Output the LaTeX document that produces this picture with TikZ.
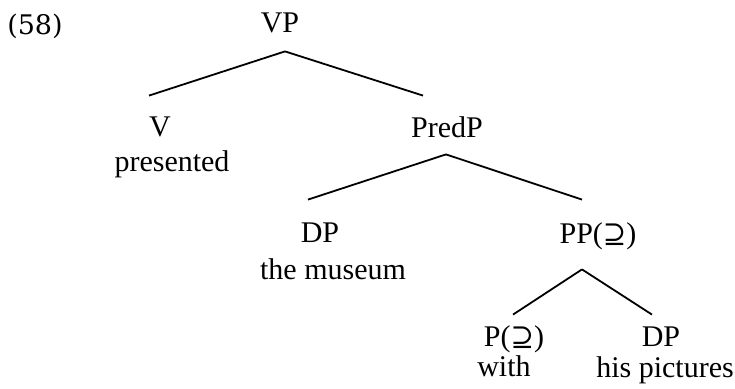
\documentclass[tikz,border=0pt]{standalone}
\usepackage{fontspec}
\newfontfamily\treefont{Liberation Serif}
\newfontfamily\exfont{DejaVu Serif}
\newcommand{\suprel}{{\exfont\fontsize{14}{18}\selectfont ⊇}}
\tikzset{
  cat/.style={font=\treefont\fontsize{15}{18}\selectfont, inner sep=0pt, anchor=base, text height=10pt, text depth=0pt},
  word/.style={font=\treefont\fontsize{15}{18}\selectfont, inner sep=0pt, anchor=base},
  branch/.style={line width=0.9pt}
}

\begin{document}
\begin{tikzpicture}[x=0.5pt,y=-0.5pt]
        \useasboundingbox (0,0) rectangle (735,389) ;
        \node[anchor=base,inner sep=0pt,font=\exfont\fontsize{13.5}{16}\selectfont] (ex) at (35,35) {(58)} ;
        % categories
        \node[cat] (vp) at (280,33) {VP} ;
        \node[cat] (v) at (160,137) {V} ;
        \node[cat] (predp) at (447,138) {PredP} ;
        \node[cat] (dpa) at (320,243) {DP} ;
        \node[cat] (pp) at (598,244) {PP(\suprel)} ;
        \node[cat] (p) at (514,347) {P(\suprel)} ;
        \node[cat] (dpb) at (661,347) {DP} ;
        % words
        \node[word] (presented) at (172,172) {presented} ;
        \node[word] (museum) at (333,280) {the museum} ;
        \node[word] (with) at (504,377) {with} ;
        \node[word] (pictures) at (665,378) {his pictures} ;
        % branches
        \draw[branch] ([shift={(2.5pt,-9pt)}]vp.south) -- ([shift={(-5.5pt,10.5pt)}]v.north) ;
        \draw[branch] ([shift={(2.5pt,-9pt)}]vp.south) -- ([shift={(-12pt,11pt)}]predp.north) ;
        \draw[branch] ([shift={(-0.5pt,-8pt)}]predp.south) -- ([shift={(-6pt,11.5pt)}]dpa.north) ;
        \draw[branch] ([shift={(-0.5pt,-8pt)}]predp.south) -- ([shift={(-8pt,12pt)}]pp.north) ;
        \draw[branch] ([shift={(-8pt,-12.5pt)}]pp.south) -- ([shift={(-0.5pt,6pt)}]p.north) ;
        \draw[branch] ([shift={(-8pt,-12.5pt)}]pp.south) -- ([shift={(-4.5pt,6pt)}]dpb.north) ;
\end{tikzpicture}
\end{document}
